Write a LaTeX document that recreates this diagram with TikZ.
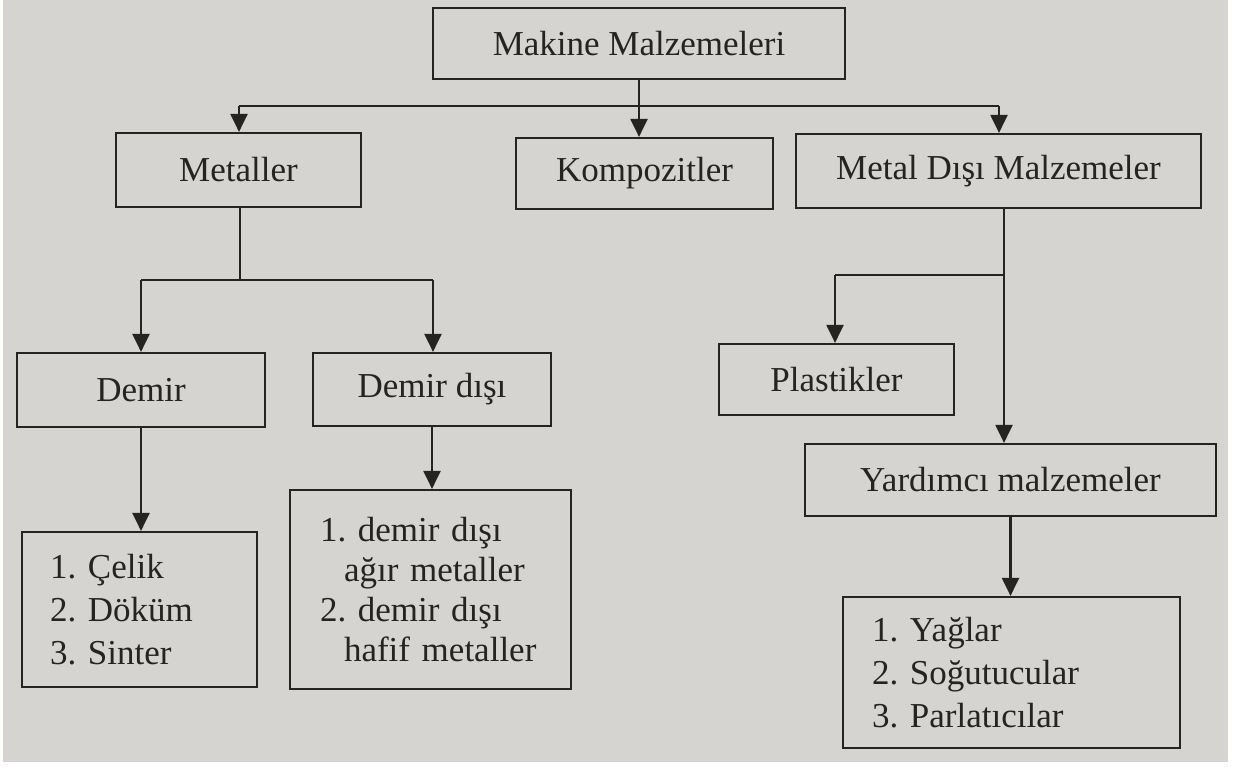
\documentclass[tikz,border=0pt]{standalone}
\usepackage{fontspec}
\setmainfont{Liberation Serif}
\usetikzlibrary{arrows.meta}
\definecolor{paper}{RGB}{214,212,208}
\definecolor{ink}{RGB}{38,36,35}
\frenchspacing
\tikzset{
  box/.style={draw=ink, line width=1.1pt, inner sep=0pt, text=ink,
    font=\fontsize{17.5pt}{21.5pt}\selectfont\frenchspacing},
  listbox/.style={box, align=left, inner xsep=14pt},
  conn/.style={draw=ink, line width=1.1pt},
  arr/.style={conn, -{Triangle[length=9pt,width=8.5pt]}}
}
\begin{document}
\begin{tikzpicture}[x=0.5pt,y=-0.5pt]
\useasboundingbox (0,0) rectangle (1236,766);
\fill[white] (0,0) rectangle (1236,766);
\fill[paper] (3,0) rectangle (1228,762);

% boxes
\node[box, minimum width=206pt, minimum height=35.5pt] (mm) at (639,43.5) {Makine Malzemeleri};
\node[box, minimum width=122.5pt, minimum height=37pt] (met) at (238.5,170) {Metaller};
\node[box, minimum width=128.5pt, minimum height=35.5pt] (komp) at (644.5,173.5) {Kompozitler};
\node[box, minimum width=202.5pt, minimum height=37pt] (mdm) at (998.5,171) {Metal Dışı Malzemeler};
\node[box, minimum width=124pt, minimum height=37pt] (demir) at (141,390) {Demir};
\node[box, minimum width=119pt, minimum height=36.5pt] (dd) at (432,389.5) {Demir dışı};
\node[listbox, inner xsep=14pt, text width=89.5pt, minimum height=77.5pt] (celik) at (139.5,609.5)
  {1. Çelik\\2. Döküm\\3. Sinter};
\node[listbox, inner xsep=15pt, text width=110.5pt, minimum height=99.5pt,
  font=\fontsize{17.5pt}{20pt}\selectfont\frenchspacing] (ddl) at (430.5,589.5)
  {1. demir dışı\\\hspace*{12pt}ağır metaller\\2. demir dışı\\\hspace*{12pt}hafif metaller};
\node[box, minimum width=117.5pt, minimum height=35.5pt] (plast) at (836.5,379.5) {Plastikler};
\node[box, minimum width=205.5pt, minimum height=36pt] (yard) at (1010.5,480) {Yardımcı malzemeler};
\node[listbox, inner xsep=14.5pt, text width=139.5pt, minimum height=75.5pt] (yag) at (1011.5,672.5)
  {1. Yağlar\\2. Soğutucular\\3. Parlatıcılar};

% top level connectors
\coordinate (busL) at (239,106);
\coordinate (busR) at (999,106);
\draw[conn] (busL) -- (busR);
\draw[arr] (mm.south) -- (mm.south |- komp.north);
\draw[arr] (busL) -- (busL |- met.north);
\draw[arr] (busR) -- (busR |- mdm.north);

% Metaller branch
\coordinate (mb) at (240,280);
\coordinate (bl) at (141,280);
\coordinate (br) at (433,280);
\draw[conn] (met.south -| mb) -- (mb);
\draw[conn] (bl) -- (br);
\draw[arr] (bl) -- (bl |- demir.north);
\draw[arr] (br) -- (br |- dd.north);
\draw[arr] (demir.south) -- (demir.south |- celik.north);
\draw[arr] (dd.south) -- (dd.south |- ddl.north);

% Metal disi branch
\coordinate (ms) at (1004,208);
\coordinate (pb) at (1004,275);
\coordinate (pl) at (835,275);
\draw[arr] (ms) -- (ms |- yard.north);
\draw[conn] (pb) -- (pl);
\draw[arr] (pl) -- (pl |- plast.north);
\draw[arr] (yard.south) -- (yard.south |- yag.north);
\end{tikzpicture}
\end{document}
